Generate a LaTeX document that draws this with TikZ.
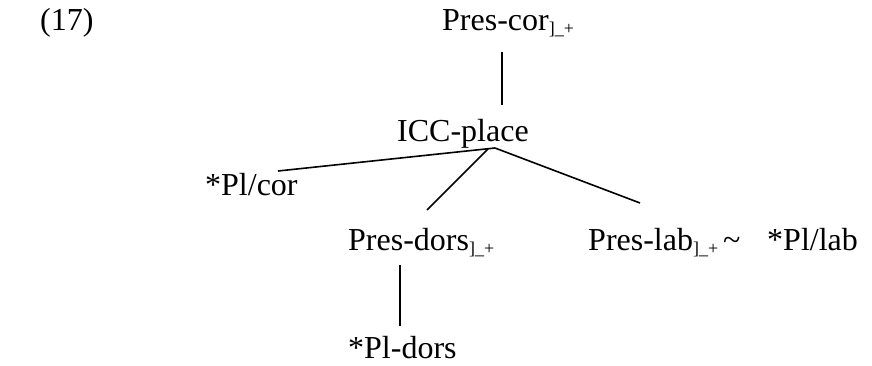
\documentclass[tikz,border=0pt]{standalone}
\usepackage{fontspec}
\setmainfont{Liberation Serif}
\usetikzlibrary{calc}
\newcommand{\subm}{\raisebox{-4pt}{\fontsize{18}{18}\selectfont ]\_+}}
\begin{document}
\begin{tikzpicture}[x=1pt,y=-1pt,
  lbl/.style={anchor=base west,inner sep=0pt,font=\fontsize{32}{36}\selectfont},
  edge/.style={line width=1.6pt}]
\useasboundingbox (0,0) rectangle (872,366);
\node[lbl] (n17) at (40,31) {(17)};
\node[lbl] (prescor) at (442,31) {Pres-cor\subm};
\node[lbl] (icc) at (397,142) {ICC-place};
\node[lbl] (plcor) at (205,195) {*Pl/cor};
\node[lbl] (presdors) at (348,250) {Pres-dors\subm};
\node[lbl] (preslab) at (588,250) {Pres-lab\subm};
\node[lbl] (tilde) at (723,250) {\textasciitilde};
\node[lbl] (pllab) at (767,250) {*Pl/lab};
\node[lbl] (pldors) at (348,358) {*Pl-dors};
% connector end points
\coordinate (ctop) at ($(prescor.base west)+(60,21)$);
\coordinate (cicc) at ($(icc.base west)+(105,-37)$);
\coordinate (apex) at ($(icc.base west)+(98,6)$);
\coordinate (apexm) at ($(icc.base west)+(91,7)$);
\coordinate (ecor) at ($(plcor.base west)+(73,-24)$);
\coordinate (edors) at ($(presdors.base west)+(79,-40)$);
\coordinate (elab) at ($(preslab.base west)+(52,-47)$);
\coordinate (dtop) at ($(presdors.base west)+(52,15)$);
\coordinate (dbot) at ($(pldors.base west)+(52,-32)$);
\draw[edge] (ctop) -- (cicc);
\draw[edge] (apex) -- (ecor);
\draw[edge] (apexm) -- (edors);
\draw[edge] (apex) -- (elab);
\draw[edge] (dtop) -- (dbot);
\end{tikzpicture}
\end{document}
